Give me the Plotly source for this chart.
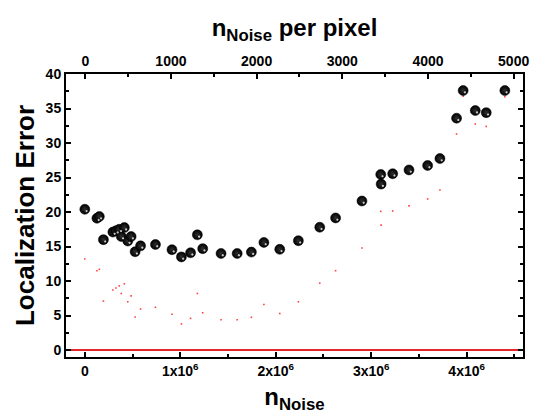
import plotly.graph_objects as go

# Data (x in units of 1e6 noise counts)
n_noise_e6 = [0.0, 0.127, 0.152, 0.195, 0.294, 0.326, 0.361, 0.382, 0.414, 0.45,
              0.485, 0.527, 0.584, 0.74, 0.913, 1.012, 1.108, 1.179, 1.235, 1.427,
              1.596, 1.745, 1.876, 2.042, 2.237, 2.461, 2.627, 2.903, 3.10, 3.104,
              3.225, 3.396, 3.591, 3.72, 3.894, 3.963, 4.09, 4.205, 4.40]
loc_error = [20.4, 19.1, 19.35, 16.0, 17.1, 17.3, 17.5, 16.45, 17.75, 15.8,
             16.45, 14.25, 15.1, 15.3, 14.55, 13.5, 14.1, 16.7, 14.7, 14.0,
             14.0, 14.2, 15.6, 14.6, 15.85, 17.8, 19.15, 21.6, 25.45, 24.05,
             25.55, 26.1, 26.75, 27.75, 33.6, 37.6, 34.7, 34.4, 37.6]
loc_error_low = [13.2, 11.5, 11.7, 7.1, 8.7, 9.0, 9.3, 8.2, 9.6, 7.0,
                 7.85, 4.8, 5.95, 6.2, 5.2, 3.8, 4.6, 8.2, 5.4, 4.4,
                 4.4, 4.75, 6.6, 5.3, 7.0, 9.7, 11.5, 14.8, 20.1, 18.1,
                 20.15, 20.9, 21.9, 23.2, 31.3, 36.8, 32.75, 32.4, 36.7]

x_tickvals_e6 = [0, 1, 2, 3, 4]
x_ticktext = ["0", "1x10<sup>6</sup>", "2x10<sup>6</sup>", "3x10<sup>6</sup>", "4x10<sup>6</sup>"]
y_tickvals = [0, 5, 10, 15, 20, 25, 30, 35, 40]
top_tickvals = [0, 1000, 2000, 3000, 4000, 5000]

x = [v * 1e6 for v in n_noise_e6]
xtv = [v * 1e6 for v in x_tickvals_e6]

FONT = "Liberation Sans, Arial, sans-serif"
tickfont = dict(family=FONT, size=14, color="black", weight="bold")
xtitlefont = dict(family=FONT, size=24, color="black", weight="bold")
ytitlefont = dict(family=FONT, size=26, color="black", weight="bold")

fig = go.Figure()

# zero reference line
fig.add_trace(go.Scatter(x=[-0.197e6, 4.59e6], y=[0, 0], mode="lines",
                         line=dict(color="#e8242c", width=2), hoverinfo="skip"))

# small red points
fig.add_trace(go.Scatter(x=x, y=loc_error_low, mode="markers",
                         marker=dict(symbol="square", size=1.6, color="#ff4040", line=dict(width=0))))

# black spheres
fig.add_trace(go.Scatter(x=x, y=loc_error, mode="markers",
                         marker=dict(symbol="circle", size=10, color="black",
                                     gradient=dict(type="radial", color="#303030"),
                                     line=dict(width=0.5, color="black"))))
# highlights
fig.add_trace(go.Scatter(x=x, y=loc_error, mode="markers",
                         marker=dict(symbol="circle", size=2.2, color="#dddddd", opacity=0.9,
                                     angle=-45, standoff=2.5, line=dict(width=0))))

# invisible trace on top axis
fig.add_trace(go.Scatter(x=top_tickvals, y=[None] * len(top_tickvals), xaxis="x2",
                         mode="markers", showlegend=False))

fig.update_layout(
    width=536, height=417,
    margin=dict(l=66, r=7, t=74, b=60),
    paper_bgcolor="white", plot_bgcolor="white",
    showlegend=False,
    xaxis=dict(range=[-0.197e6, 4.59e6], tickvals=xtv, ticktext=x_ticktext,
               ticks="inside", ticklen=5, tickwidth=1.5, tickcolor="black",
               minor=dict(ticks="inside", ticklen=3, tickwidth=1.5, dtick=5e5, tick0=0, tickcolor="black"),
               showline=True, linewidth=2, linecolor="black", mirror=False,
               showgrid=False, zeroline=False, tickfont=tickfont,
               title=dict(text="n<sub>Noise</sub>", font=xtitlefont, standoff=10)),
    xaxis2=dict(overlaying="x", side="top", anchor="y", range=[-225, 5109],
                tickvals=top_tickvals,
                ticks="inside", ticklen=5, tickwidth=1.5, tickcolor="black",
                minor=dict(ticks="inside", ticklen=3, tickwidth=1.5, dtick=500, tick0=0, tickcolor="black"),
                showline=True, linewidth=2, linecolor="black",
                showgrid=False, zeroline=False, tickfont=tickfont,
                title=dict(text="n<sub>Noise</sub> per pixel", font=xtitlefont, standoff=10)),
    yaxis=dict(range=[-1, 40], tickvals=y_tickvals,
               ticks="inside", ticklen=5, tickwidth=1.5, tickcolor="black",
               minor=dict(ticks="inside", ticklen=3, tickwidth=1.5, dtick=2.5, tick0=0, tickcolor="black"),
               showline=True, linewidth=2, linecolor="black", mirror="ticks",
               showgrid=False, zeroline=False, tickfont=tickfont,
               title=dict(text="Localization Error", font=ytitlefont, standoff=4)),
)

fig.write_html("out.html")
